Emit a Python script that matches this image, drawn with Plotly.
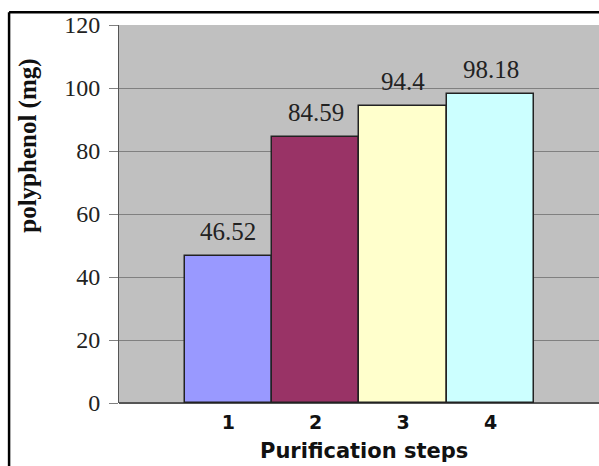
import plotly.graph_objects as go

steps = ["1", "2", "3", "4"]
polyphenol = [46.52, 84.59, 94.4, 98.18]
labels = ["46.52", "84.59", "94.4", "98.18"]
colors = ["#9999FF", "#993366", "#FFFFCC", "#CCFFFF"]
y_ticks = [0, 20, 40, 60, 80, 100, 120]

xpos = list(range(len(steps)))

fig = go.Figure()
fig.add_trace(go.Bar(
    x=xpos, y=polyphenol, width=1.0,
    marker=dict(color=colors, line=dict(color="#222222", width=1.5)),
    showlegend=False, hoverinfo="skip",
))

for xi, v, t in zip(xpos, polyphenol, labels):
    fig.add_annotation(x=xi, y=v, text=t, showarrow=False, yanchor="bottom", yshift=9,
                       font=dict(family="Liberation Serif", size=25, color="#222222"))

fig.add_annotation(xref="paper", yref="paper", x=-0.19, y=0.68, text="<b>polyphenol (mg)</b>",
                   textangle=-90, showarrow=False, xanchor="center", yanchor="middle",
                   font=dict(family="Liberation Serif", size=25, color="#111111"))

fig.add_annotation(xref="paper", yref="paper", x=0.51, y=-0.128, text="<b>Purification steps</b>",
                   showarrow=False, xanchor="center", yanchor="middle",
                   font=dict(family="DejaVu Sans", size=21, color="#111111"))

fig.update_layout(
    width=599, height=466,
    margin=dict(l=119, r=0, t=25, b=63),
    paper_bgcolor="white", plot_bgcolor="#C0C0C0",
    bargap=0,
    xaxis=dict(range=[-1.25, 4.24], tickvals=xpos, ticktext=["<b>%s</b>" % s for s in steps],
               tickfont=dict(family="DejaVu Sans", size=19, color="#111111"),
               ticklabelstandoff=6,
               showgrid=False, zeroline=False, showline=False, ticks=""),
    yaxis=dict(range=[0, 120], tickvals=y_ticks,
               tickfont=dict(family="Liberation Serif", size=24, color="#222222"),
               ticklabelstandoff=4,
               showgrid=True, gridcolor="#808080", gridwidth=1,
               showline=True, linecolor="#555555", linewidth=1,
               ticks="outside", ticklen=9, tickcolor="#808080",
               zeroline=True, zerolinecolor="#555555", zerolinewidth=1.5),
    shapes=[
        dict(type="line", xref="paper", yref="paper", x0=-0.229, x1=1.0, y0=1.034, y1=1.034,
             line=dict(color="black", width=2.5)),
        dict(type="line", xref="paper", yref="paper", x0=-0.229, x1=-0.229, y0=1.034, y1=-0.2,
             line=dict(color="black", width=2.5)),
    ],
)

fig.write_html("out.html")
